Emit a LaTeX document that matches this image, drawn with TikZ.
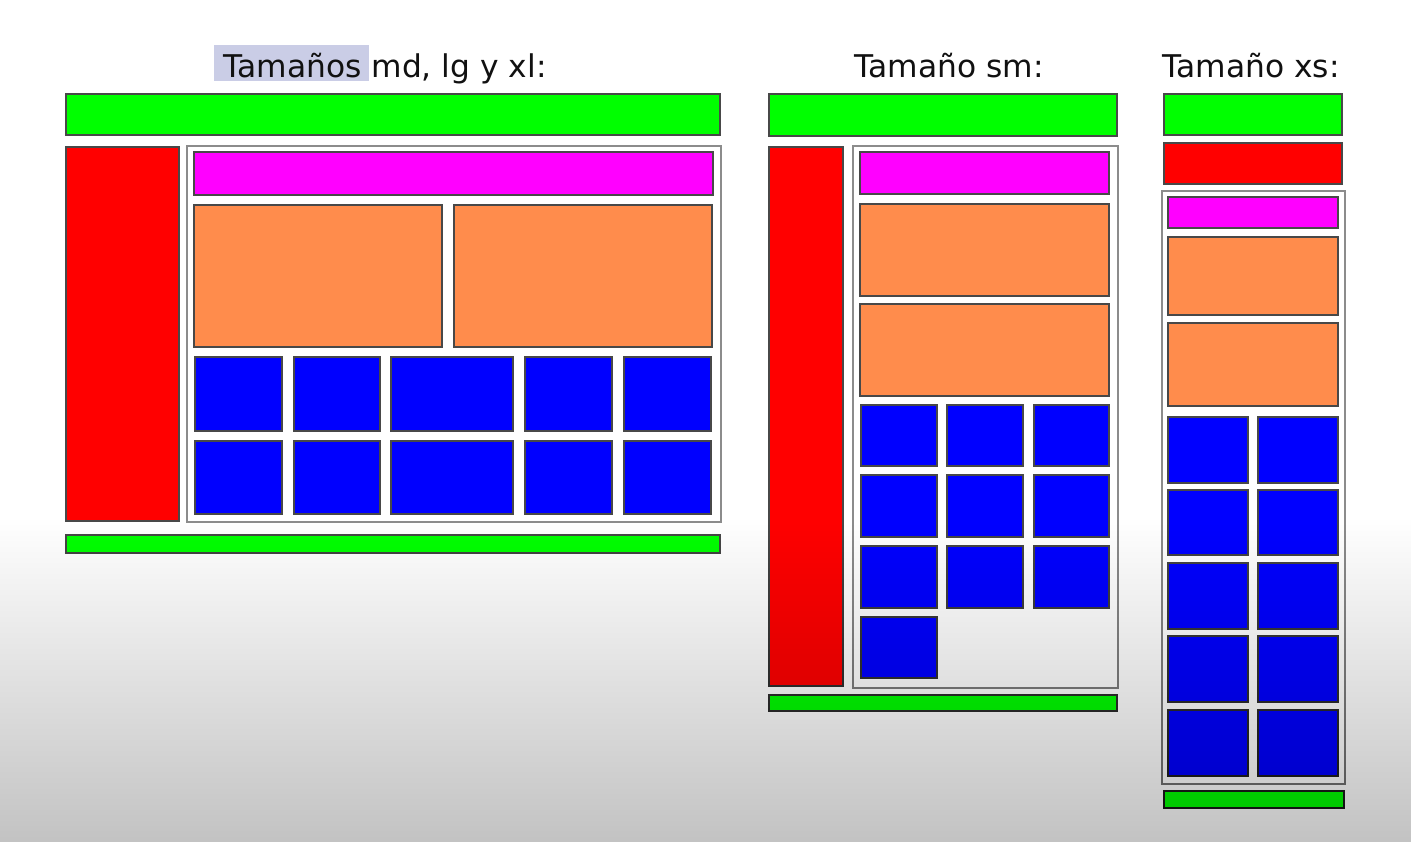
\documentclass[tikz,border=0pt]{standalone}
\usepackage{fontspec}
\setmainfont{DejaVu Sans}
\definecolor{cgreen}{RGB}{0,255,0}
\definecolor{cred}{RGB}{255,0,0}
\definecolor{cmag}{RGB}{255,0,255}
\definecolor{corange}{RGB}{255,140,76}
\definecolor{cblue}{RGB}{0,0,255}
\definecolor{cedge}{RGB}{72,72,72}
\definecolor{ccont}{RGB}{140,140,140}
\definecolor{chl}{RGB}{202,205,230}
\definecolor{ctext}{RGB}{17,17,17}
\begin{document}
\begin{tikzpicture}[x=1pt,y=-1pt,
  cbox/.style={draw=cedge, line width=2.9pt},
  gbox/.style={cbox, fill=cgreen},
  rbox/.style={cbox, fill=cred},
  mbox/.style={cbox, fill=cmag},
  obox/.style={cbox, fill=corange},
  bbox/.style={cbox, fill=cblue},
  cont/.style={draw=ccont, line width=1.5pt},
  lbl/.style={text=ctext, font=\fontsize{31.3pt}{36pt}\selectfont, inner sep=0pt, anchor=base}]
\useasboundingbox (0,0) rectangle (1411,842);
\fill[white] (0,0) rectangle (1411,842);

% ---------- labels ----------
\fill[chl] (214,45) rectangle (369,81);
\node[lbl] (t1) at (385,78) {Tamaños md, lg y xl:};
\node[lbl] (t2) at (949,78) {Tamaño sm:};
\node[lbl] (t3) at (1251,78) {Tamaño xs:};

% ---------- layout md/lg/xl ----------
\draw[gbox] (66,94) rectangle (720,135);
\draw[rbox] (66,147) rectangle (179,521);
\draw[cont] (187,146) rectangle (721,522);
\draw[mbox] (194,152) rectangle (713,195);
\draw[obox] (194,205) rectangle (442,347);
\draw[obox] (454,205) rectangle (712,347);
\foreach \ya/\yb in {357/431,441/514}{
  \foreach \xa/\xb in {195/282,294/380,391/513,525/612,624/711}{
    \draw[bbox] (\xa,\ya) rectangle (\xb,\yb);
  }
}
\draw[gbox] (66,535) rectangle (720,553);

% ---------- layout sm ----------
\draw[gbox] (769,94) rectangle (1117,136);
\draw[rbox] (769,147) rectangle (843,686);
\draw[cont] (853,146) rectangle (1118,688);
\draw[mbox] (860,152) rectangle (1109,194);
\draw[obox] (860,204) rectangle (1109,296);
\draw[obox] (860,304) rectangle (1109,396);
\foreach \ya/\yb in {405/466,475/537,546/608}{
  \foreach \xa/\xb in {861/937,947/1023,1034/1109}{
    \draw[bbox] (\xa,\ya) rectangle (\xb,\yb);
  }
}
\draw[bbox] (861,617) rectangle (937,678);
\draw[gbox] (769,695) rectangle (1117,711);

% ---------- layout xs ----------
\draw[gbox] (1164,94) rectangle (1342,135);
\draw[rbox] (1164,143) rectangle (1342,184);
\draw[cont] (1162,191) rectangle (1345,784);
\draw[mbox] (1168,197) rectangle (1338,228);
\draw[obox] (1168,237) rectangle (1338,315);
\draw[obox] (1168,323) rectangle (1338,406);
\foreach \ya/\yb in {417/483,490/555,563/629,636/702,710/776}{
  \foreach \xa/\xb in {1168/1248,1258/1338}{
    \draw[bbox] (\xa,\ya) rectangle (\xb,\yb);
  }
}
\draw[gbox] (1164,791) rectangle (1344,808);

% ---------- darkening toward the bottom ----------
\foreach \i in {0,...,59}{
  \fill[black, opacity=0.0048] (0,{520+\i*5.37}) rectangle (1411,842);
}
\end{tikzpicture}
\end{document}
